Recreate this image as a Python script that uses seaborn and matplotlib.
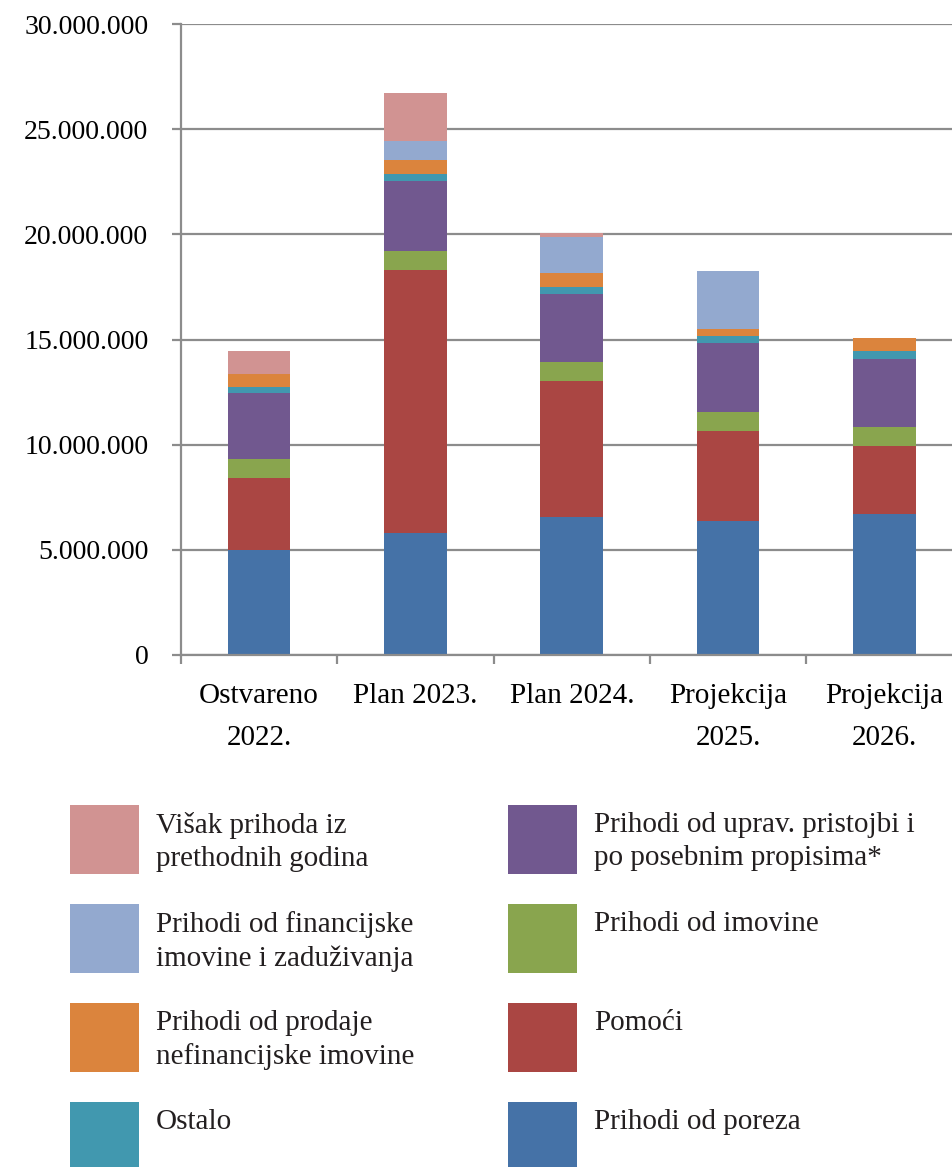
import numpy as np
import pandas as pd
import matplotlib
matplotlib.use("Agg")
import matplotlib.pyplot as plt
from matplotlib.patches import Rectangle
from matplotlib.ticker import FuncFormatter
import seaborn as sns

# Kategorije (x os)
godine = ["Ostvareno\n2022.", "Plan 2023.", "Plan 2024.", "Projekcija\n2025.", "Projekcija\n2026."]

# Vrijednosti po izvorima (EUR), od dna stupca prema vrhu
prihodi_od_poreza = [5000000, 5800000, 6550000, 6360000, 6700000]
pomoci = [3430000, 12520000, 6460000, 4310000, 3250000]
prihodi_od_imovine = [890000, 900000, 910000, 900000, 910000]
upravne_pristojbe = [3150000, 3330000, 3230000, 3250000, 3230000]
ostalo = [260000, 340000, 360000, 350000, 350000]
prodaja_nefin_imovine = [650000, 660000, 640000, 350000, 630000]
financijska_imovina = [0, 890000, 1710000, 2730000, 0]
visak_prihoda = [1080000, 2270000, 190000, 0, 0]

nazivi = [
    "Prihodi od poreza",
    "Pomoći",
    "Prihodi od imovine",
    "Prihodi od uprav. pristojbi i\npo posebnim propisima*",
    "Ostalo",
    "Prihodi od prodaje\nnefinancijske imovine",
    "Prihodi od financijske\nimovine i zaduživanja",
    "Višak prihoda iz\nprethodnih godina",
]
boje = ["#4572A7", "#AA4643", "#89A54E", "#71588F", "#4198AF", "#DB843D", "#93A9CF", "#D19392"]

df = pd.DataFrame({
    "godina": godine,
    nazivi[0]: prihodi_od_poreza,
    nazivi[1]: pomoci,
    nazivi[2]: prihodi_od_imovine,
    nazivi[3]: upravne_pristojbe,
    nazivi[4]: ostalo,
    nazivi[5]: prodaja_nefin_imovine,
    nazivi[6]: financijska_imovina,
    nazivi[7]: visak_prihoda,
})
kumulativ = df[nazivi].cumsum(axis=1)
kumulativ["godina"] = df["godina"]

sns.set_theme(style="white")
plt.rcParams["font.family"] = ["Liberation Serif", "DejaVu Serif"]

W, H = 953, 1167
fig = plt.figure(figsize=(W / 100, H / 100), dpi=100)
ax = fig.add_axes([181 / W, 1 - 655 / H, 781.5 / W, 631 / H])

# Stacked bars: draw cumulative totals from the top down
for naziv, boja in reversed(list(zip(nazivi, boje))):
    sns.barplot(data=kumulativ, x="godina", y=naziv, color=boja, width=0.4,
                saturation=1, linewidth=0, ax=ax)

ax.set_xlim(-0.5, 4.5)
ax.set_ylim(0, 30000000)
ax.set_yticks(np.arange(0, 30000001, 5000000))
ax.yaxis.set_major_formatter(FuncFormatter(lambda v, p: f"{v:,.0f}".replace(",", ".")))
ax.set_xlabel("")
ax.set_ylabel("")

ax.set_xticks(np.arange(-0.5, 4.0, 1.0))
ax.set_xticklabels([])
ax.set_xticks(range(5), minor=True)
ax.set_xticklabels(godine, minor=True, fontsize=21, linespacing=1.8)

gray = "#8C8C8C"
ax.yaxis.grid(True, color=gray, linewidth=1.6)
ax.set_axisbelow(True)
for s in ["top", "right"]:
    ax.spines[s].set_visible(False)
for s in ["left", "bottom"]:
    ax.spines[s].set_color(gray)
    ax.spines[s].set_linewidth(1.6)

ax.tick_params(axis="y", which="major", direction="out", length=6.5, width=1.6,
               color=gray, pad=17, labelsize=20, labelcolor="black", left=True)
ax.tick_params(axis="x", which="major", direction="out", length=6.5, width=1.6,
               color=gray, bottom=True)
ax.tick_params(axis="x", which="minor", length=0, pad=20, labelcolor="black", bottom=True)

# Legenda: dva stupca, redoslijed kao u stupcu (vrh -> dno)
leg = fig.add_axes([0, 0, 1, 1 - 780 / H])
leg.set_xlim(0, W)
leg.set_ylim(1167, 780)
leg.axis("off")
redoslijed = list(range(7, -1, -1))
for k, i in enumerate(redoslijed):
    col, row = divmod(k, 4)
    x0 = 70 if col == 0 else 508
    y0 = 805 + row * 99
    leg.add_patch(Rectangle((x0, y0), 69, 69, facecolor=boje[i], edgecolor="none"))
    leg.text(x0 + 86, y0 + 7, nazivi[i], fontsize=21, color="#231F20",
             va="top", ha="left", linespacing=1.35)

fig.savefig("out.png", dpi=100)
